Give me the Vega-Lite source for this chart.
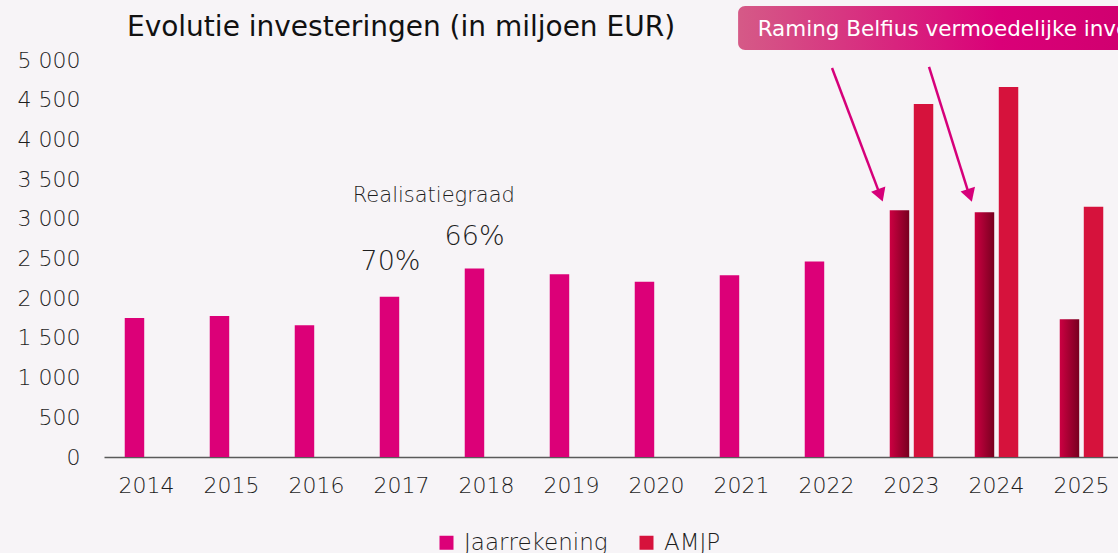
{
  "$schema": "https://vega.github.io/schema/vega-lite/v6.json",
  "width": 1014,
  "height": 397,
  "autosize": {"type": "none"},
  "padding": {"left": 104, "top": 60, "right": 0, "bottom": 96},
  "background": "#f7f4f7",
  "config": {"view": {"stroke": null}, "font": "DejaVu Sans", "axis": {"labelOverlap": false}},
  "datasets": {
    "inv": [
      {"jaar": "2014", "reeks": "Jaarrekening", "status": "Werkelijk", "waarde": 1752},
      {"jaar": "2015", "reeks": "Jaarrekening", "status": "Werkelijk", "waarde": 1777},
      {"jaar": "2016", "reeks": "Jaarrekening", "status": "Werkelijk", "waarde": 1660},
      {"jaar": "2017", "reeks": "Jaarrekening", "status": "Werkelijk", "waarde": 2017},
      {"jaar": "2018", "reeks": "Jaarrekening", "status": "Werkelijk", "waarde": 2375},
      {"jaar": "2019", "reeks": "Jaarrekening", "status": "Werkelijk", "waarde": 2303},
      {"jaar": "2020", "reeks": "Jaarrekening", "status": "Werkelijk", "waarde": 2206},
      {"jaar": "2021", "reeks": "Jaarrekening", "status": "Werkelijk", "waarde": 2290},
      {"jaar": "2022", "reeks": "Jaarrekening", "status": "Werkelijk", "waarde": 2463},
      {"jaar": "2023", "reeks": "Jaarrekening", "status": "Raming Belfius", "waarde": 3109},
      {"jaar": "2023", "reeks": "AMJP", "status": "Werkelijk", "waarde": 4446},
      {"jaar": "2024", "reeks": "Jaarrekening", "status": "Raming Belfius", "waarde": 3084},
      {"jaar": "2024", "reeks": "AMJP", "status": "Werkelijk", "waarde": 4660},
      {"jaar": "2025", "reeks": "Jaarrekening", "status": "Raming Belfius", "waarde": 1736},
      {"jaar": "2025", "reeks": "AMJP", "status": "Werkelijk", "waarde": 3151}
    ]
  },
  "layer": [
    {
      "data": {"name": "inv"},
      "encoding": {
        "x": {
          "field": "jaar", "type": "nominal", "title": null,
          "scale": {"range": [0, 1020], "paddingInner": 0.488, "paddingOuter": 0.244},
          "axis": {"domain": true, "domainColor": "#5a5a5a", "domainWidth": 1.5, "ticks": false, "grid": false,
                   "labelAngle": 0, "labelFontSize": 22, "labelColor": "#1e1e1e", "labelPadding": 18, "labelFontWeight": 300}
        },
        "xOffset": {"field": "reeks", "type": "nominal", "scale": {"domain": ["Jaarrekening", "AMJP"], "paddingInner": 0.19, "paddingOuter": 0}},
        "y": {
          "field": "waarde", "type": "quantitative", "title": null,
          "scale": {"domain": [0, 5000], "nice": false},
          "axis": {"domain": false, "ticks": false, "grid": false, "values": [0, 500, 1000, 1500, 2000, 2500, 3000, 3500, 4000, 4500, 5000],
                   "labelOverlap": false,
                   "labelExpr": "replace(format(datum.value, ','), ',', ' ')", "labelFontSize": 22, "labelColor": "#1e1e1e", "labelPadding": 24, "labelFontWeight": 300}
        }
      },
      "layer": [
        {
          "transform": [{"filter": "datum.status !== 'Raming Belfius'"}],
          "mark": {"type": "bar"},
          "encoding": {
            "color": {
              "field": "reeks", "type": "nominal",
              "scale": {"domain": ["Jaarrekening", "AMJP"], "range": ["#dc0078", "#d6123c"]},
              "legend": {"orient": "none", "legendX": 331, "legendY": 471, "direction": "horizontal", "title": null,
                         "symbolType": "square", "symbolSize": 196, "symbolStrokeWidth": 0, "labelFontSize": 23, "labelColor": "#1e1e1e",
                         "labelOffset": 6, "columnPadding": 27, "labelFontWeight": 300}
            }
          }
        },
        {
          "transform": [{"filter": "datum.status === 'Raming Belfius'"}],
          "mark": {"type": "bar", "color": {"gradient": "linear", "x1": 0, "y1": 0, "x2": 1, "y2": 0,
                   "stops": [{"offset": 0, "color": "#cc0042"}, {"offset": 1, "color": "#78001f"}]}}
        }
      ]
    },
    {
      "data": {"values": [{}]},
      "encoding": {
        "x": {"type": "quantitative", "scale": {"domain": [0, 12], "range": [0, 1020], "nice": false, "zero": false}, "axis": null},
        "y": {"type": "quantitative", "scale": {"domain": [0, 5000], "nice": false}, "axis": null}
      },
      "layer": [
        {
          "mark": {"type": "text", "text": "Evolutie investeringen (in miljoen EUR)", "align": "left", "baseline": "alphabetic",
                   "fontSize": 28, "fontWeight": 500, "color": "#111111"},
          "encoding": {"x": {"datum": 0.27}, "y": {"datum": 5303}}
        },
        {
          "mark": {"type": "rect", "cornerRadius": 7,
                   "color": {"gradient": "linear", "x1": 0, "y1": 0, "x2": 1, "y2": 0,
                             "stops": [{"offset": 0, "color": "#d55a87"}, {"offset": 0.6, "color": "#da0078"}, {"offset": 1, "color": "#cc006c"}]}},
          "encoding": {"x": {"datum": 7.46}, "x2": {"datum": 12.6}, "y": {"datum": 5681}, "y2": {"datum": 5126}}
        },
        {
          "mark": {"type": "text", "text": "Raming Belfius vermoedelijke investeringen", "align": "left", "baseline": "alphabetic",
                   "fontSize": 21.5, "color": "#ffffff"},
          "encoding": {"x": {"datum": 7.69}, "y": {"datum": 5306}}
        },
        {
          "mark": {"type": "rule", "color": "#d6007a", "strokeWidth": 2.5},
          "encoding": {"x": {"datum": 8.565}, "y": {"datum": 4899}, "x2": {"datum": 9.12}, "y2": {"datum": 3330}}
        },
        {
          "mark": {"type": "rule", "color": "#d6007a", "strokeWidth": 2.5},
          "encoding": {"x": {"datum": 9.706}, "y": {"datum": 4912}, "x2": {"datum": 10.17}, "y2": {"datum": 3330}}
        },
        {
          "mark": {"type": "point", "shape": "triangle-down", "filled": true, "color": "#d6007a", "opacity": 1, "size": 230, "angle": -20},
          "encoding": {"x": {"datum": 9.135}, "y": {"datum": 3296}}
        },
        {
          "mark": {"type": "point", "shape": "triangle-down", "filled": true, "color": "#d6007a", "opacity": 1, "size": 230, "angle": -18},
          "encoding": {"x": {"datum": 10.186}, "y": {"datum": 3294}}
        },
        {
          "mark": {"type": "text", "text": "Realisatiegraad", "align": "center", "baseline": "alphabetic", "fontSize": 21, "fontWeight": 300, "color": "#1e1e1e"},
          "encoding": {"x": {"datum": 3.88}, "y": {"datum": 3214}}
        },
        {
          "mark": {"type": "text", "text": "70%", "align": "center", "baseline": "alphabetic", "fontSize": 27, "fontWeight": 300, "color": "#1e1e1e"},
          "encoding": {"x": {"datum": 3.37}, "y": {"datum": 2353}}
        },
        {
          "mark": {"type": "text", "text": "66%", "align": "center", "baseline": "alphabetic", "fontSize": 27, "fontWeight": 300, "color": "#1e1e1e"},
          "encoding": {"x": {"datum": 4.36}, "y": {"datum": 2668}}
        }
      ]
    }
  ],
  "resolve": {"scale": {"x": "independent", "y": "independent"}}
}
